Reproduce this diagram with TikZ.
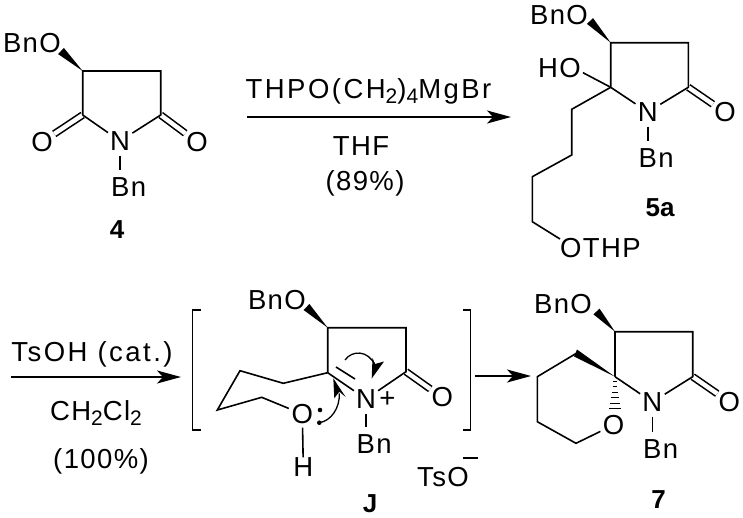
\documentclass[tikz,border=0pt]{standalone}
\usepackage{fontspec}
\setmainfont{Liberation Sans}
\newfontfamily\chem[LetterSpace=5]{Liberation Sans}
\newfontfamily\chemw[LetterSpace=9]{Liberation Sans}
\usetikzlibrary{calc,arrows.meta}
\newcommand\subs[1]{\raisebox{-5pt}{\fontsize{21}{21}\selectfont #1}}
\newcommand\wedgebond[3]{\fill (#1) -- ($(#2)!#3!90:(#1)$) -- ($(#2)!#3!-90:(#1)$) -- cycle;}
\tikzset{
  bond/.style={line width=1.6pt,line join=miter},
  dbl/.style={line width=1.6pt,double,double distance=4.4pt},
  rxn/.style={line width=1.8pt,-{Stealth[length=24pt,width=13pt,inset=6pt]}},
  atom/.style={circle,inner sep=0pt,minimum size=29pt,font=\fontsize{27.5}{27.5}\selectfont},
  lab/.style={inner sep=0pt,font=\chem\fontsize{27.5}{27.5}\selectfont},
  labw/.style={inner sep=0pt,font=\chemw\fontsize{27.5}{27.5}\selectfont},
  cpd/.style={inner sep=0pt,font=\fontsize{26}{26}\selectfont\bfseries},
}
\begin{document}
\begin{tikzpicture}[x=1pt,y=-1pt]
\useasboundingbox (0,0) rectangle (743,517);
% ---- compound 4
\coordinate (a3) at (82.7,71);
\coordinate (a4) at (160.7,71);
\coordinate (a2) at (82.7,115);
\coordinate (a5) at (160.7,115);
\coordinate (aw) at (61,51);
\node[atom] (aN) at (120,141) {N};
\node[atom] (aO1) at (42,142) {O};
\node[atom] (aO2) at (197,142) {O};
\node[lab,anchor=base east] (aB) at (61,52) {BnO};
\node[lab,anchor=base west] (aBn) at (111,196) {Bn};
\node[cpd] (a7) at (117,230) {4};
\draw[dbl] (a2) -- (aO1);
\draw[dbl] (a5) -- (aO2);
\draw[bond] (a2) -- (a3) -- (a4) -- (a5) -- (aN) -- (a2);
\draw[bond,shorten >=7pt] (aN) -- (aN |- aBn.north);
\wedgebond{a3}{aw}{4.2pt}
% ---- arrow 1
\coordinate (r1s) at (247,117);
\coordinate (r1e) at (511,117);
\draw[rxn] (r1s) -- (r1e);
\node[labw,anchor=base] (r1a) at (368.5,98) {THPO(CH\subs{2})\subs{4}MgBr};
\node[lab,anchor=base] (r1b) at (361,155) {THF};
\node[lab,anchor=base] (r1c) at (365,190) {(89\%)};
% ---- compound 5a
\coordinate (b4) at (610.7,42.7);
\coordinate (b3) at (688.3,42.7);
\coordinate (b2) at (688.3,87.3);
\coordinate (b5) at (610.7,87.3);
\coordinate (bw) at (590,21);
\coordinate (c1) at (571.7,109.3);
\coordinate (c2) at (571.7,155);
\coordinate (c3) at (532.3,176.7);
\coordinate (c4) at (532.3,221.7);
\node[atom] (bN) at (647.7,112) {N};
\node[atom] (bO) at (725,112.5) {O};
\node[lab,anchor=base east] (bB) at (588,24) {BnO};
\node[lab,anchor=base east] (bH) at (581,77) {HO};
\coordinate (bHe) at (583,72.7);
\node[lab,anchor=base west] (bBn) at (638.5,167) {Bn};
\node[lab,anchor=base west] (bT) at (560,257) {OTHP};
\coordinate (bTe) at (560,239);
\node[cpd] (b7) at (660,208) {5a};
\draw[dbl] (b2) -- (bO);
\draw[bond] (b5) -- (b4) -- (b3) -- (b2) -- (bN) -- (b5);
\draw[bond] (b5) -- (bHe);
\draw[bond] (b5) -- (c1) -- (c2) -- (c3) -- (c4) -- (bTe);
\draw[bond,shorten >=7pt] (bN) -- (bN |- bBn.north);
\wedgebond{b4}{bw}{4.2pt}
% ---- arrow 2
\coordinate (r2s) at (11,377);
\coordinate (r2e) at (181,377);
\draw[rxn] (r2s) -- (r2e);
\node[labw,anchor=base] (r2a) at (92,361.5) {TsOH (cat.)};
\node[lab,anchor=base] (r2b) at (96,420) {CH\subs{2}Cl\subs{2}};
\node[lab,anchor=base] (r2c) at (101,468) {(100\%)};
% ---- brackets
\coordinate (lb1) at (200.7,310);
\coordinate (lb2) at (192.7,310);
\coordinate (lb3) at (192.7,430);
\coordinate (lb4) at (200.7,430);
\coordinate (rb1) at (463.3,310);
\coordinate (rb2) at (470.7,310);
\coordinate (rb3) at (470.7,430);
\coordinate (rb4) at (463.3,430);
\draw[line width=1.3pt] (lb1) -- (lb2) -- (lb3) -- (lb4);
\draw[line width=1.3pt] (rb1) -- (rb2) -- (rb3) -- (rb4);
% ---- intermediate J
\coordinate (d4) at (327.7,327.7);
\coordinate (d3) at (406,327.7);
\coordinate (d2) at (406,371.7);
\coordinate (d5) at (327.7,372.7);
\coordinate (dw) at (306.5,307);
\coordinate (e1) at (283.3,383.3);
\coordinate (e2) at (240,370.7);
\coordinate (e3) at (217.3,410);
\coordinate (e4) at (261.7,397.3);
\node[atom] (dN) at (366,399) {N};
\node[atom] (dO) at (442.3,397.5) {O};
\node[atom,minimum size=24pt] (dOH) at (302.3,414) {O};
\node[lab] (dH) at (303.3,467) {H};
\node[lab] (dP) at (387.5,400) {+};
\node[lab,anchor=base east] (dB) at (306,309) {BnO};
\node[lab,anchor=base west] (dBn) at (356.5,453) {Bn};
\node[lab,anchor=base east] (dT) at (469,486) {TsO};
\coordinate (dm1) at (463,458);
\coordinate (dm2) at (478,458);
\draw[line width=1.3pt] (dm1) -- (dm2);
\node[cpd] (d7) at (370,504) {J};
\draw[dbl] (d2) -- (dO);
\draw[bond] (d5) -- (d4) -- (d3) -- (d2) -- (dN);
\draw[bond] (d5) -- (dN);
\coordinate (dd1) at (336,367);
\coordinate (dd2) at (355,379);
\draw[bond] (dd1) -- (dd2);
\draw[bond] (d5) -- (e1) -- (e2) -- (e3) -- (e4) -- (dOH);
\draw[bond,shorten <=-1pt] (dOH) -- (dH);
\draw[bond,shorten >=7pt] (dN) -- (dN |- dBn.north);
\wedgebond{d4}{dw}{4.2pt}
\fill (320,410) circle (2.3pt) coordinate (dot1);
\fill (319.3,422.7) circle (2.3pt) coordinate (dot2);
% curly arrows
\coordinate (u1) at (345,360);
\coordinate (u2) at (375,365);
\draw[line width=1.3pt] (u1) .. controls (352,350) and (368,350) .. (u2);
\fill (371.7,378.5) -- (384,361.5) -- (375,364) -- (372.5,358) -- cycle;
\coordinate (l1) at (319.3,422.7);
\coordinate (l2) at (339.3,393.3);
\draw[line width=1.3pt] (l1) .. controls (331,421) and (340,408) .. (l2);
\fill (333.3,378.3) -- (345.7,397) -- (339.3,391.7) -- (334.3,398.3) -- cycle;
% ---- arrow 3
\coordinate (r3s) at (475,376);
\coordinate (r3e) at (531,376);
\draw[rxn] (r3s) -- (r3e);
% ---- compound 7
\coordinate (f4) at (615,331.7);
\coordinate (f3) at (692.7,331.7);
\coordinate (f2) at (692.7,376.7);
\coordinate (f5) at (615,376.7);
\coordinate (fw) at (596.5,311.5);
\coordinate (g1) at (576,353.5);
\coordinate (g2) at (537.3,376.7);
\coordinate (g3) at (537.3,421.7);
\coordinate (g4) at (576,443.3);
\node[atom] (fN) at (652.3,402) {N};
\node[atom] (fO) at (729.3,402) {O};
\node[atom,minimum size=26pt] (gO) at (613.5,425) {O};
\node[lab,anchor=base east] (fB) at (592,313) {BnO};
\node[lab,anchor=base west] (fBn) at (643,458) {Bn};
\node[cpd] (f7) at (658.5,500) {7};
\draw[dbl] (f2) -- (fO);
\draw[bond] (f5) -- (f4) -- (f3) -- (f2) -- (fN) -- (f5);
\draw[bond] (g1) -- (g2) -- (g3) -- (g4) -- (gO);
\draw[bond,shorten >=7pt] (fN) -- (fN |- fBn.north);
\wedgebond{f4}{fw}{4.2pt}
\fill (f5) -- (577,349.5) -- (574,356.5) -- cycle;
\foreach \dd/\ww in {4.5/1.6,10/2.4,15.5/3.2,21/4,26.5/4.8,32/5.6}
  \draw[line width=1.2pt] ($(f5)+(-\ww,\dd)$) -- ($(f5)+(\ww,\dd)$);
\end{tikzpicture}
\end{document}
